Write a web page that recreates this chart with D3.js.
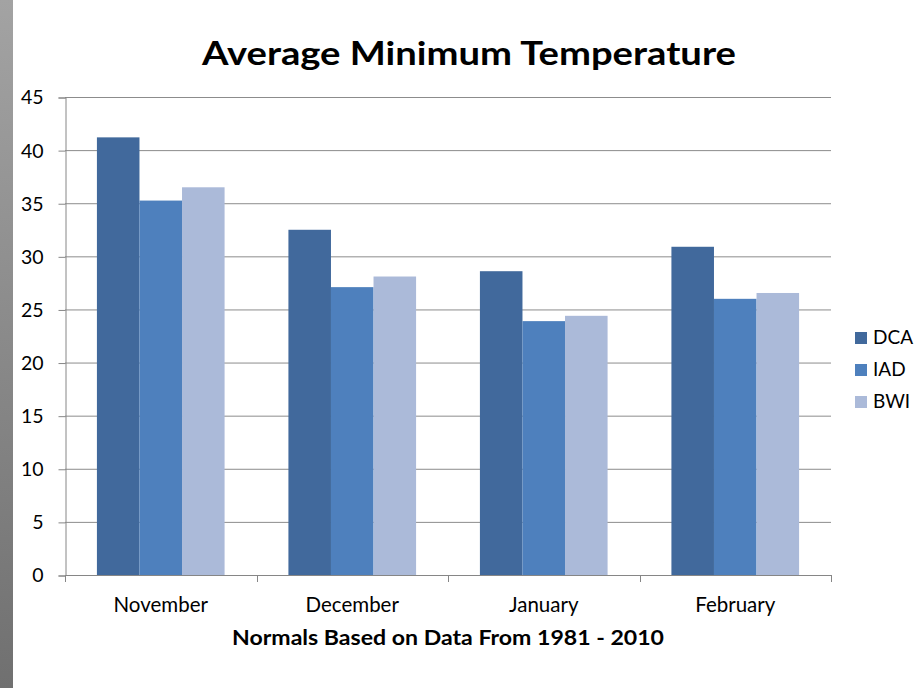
<!DOCTYPE html>
<html>
<head>
<meta charset="utf-8">
<script src="https://cdn.jsdelivr.net/npm/d3@7"></script>
<style>
    html, body { margin: 0; padding: 0; background: #fff; }
    svg { display: block; }
    .chart-text { font-family: Lato, "Open Sans", "DejaVu Sans", sans-serif; fill: #000; }
</style>
</head>
<body>
<div id="chart"></div>
<script>
const months = ["November", "December", "January", "February"];
const stations = ["DCA", "IAD", "BWI"];
const dcaValues = [41.2, 32.5, 28.6, 30.9];
const iadValues = [35.25, 27.1, 23.9, 26.0];
const bwiValues = [36.5, 28.1, 24.4, 26.55];
const yTicks = [0, 5, 10, 15, 20, 25, 30, 35, 40, 45];
const stationColors = ["#41699c", "#4e80bd", "#abbad9"];

const width = 916, height = 688;
const plot = {left: 65, right: 831, top: 97, bottom: 575};

const series = [dcaValues, iadValues, bwiValues];
const rows = months.map((m, i) => ({
    month: m,
    values: stations.map((s, j) => ({station: s, value: series[j][i], color: stationColors[j]}))
}));

const svg = d3.select('#chart').append('svg')
    .attr('width', width)
    .attr('height', height);

// grey strip on the left edge
const grad = svg.append('defs').append('linearGradient')
    .attr('id', 'strip')
    .attr('x1', 0).attr('y1', 0).attr('x2', 0).attr('y2', 1);
grad.append('stop').attr('offset', '0%').attr('stop-color', '#a3a3a3');
grad.append('stop').attr('offset', '100%').attr('stop-color', '#707070');
svg.append('rect')
    .attr('x', 0).attr('y', 0)
    .attr('width', 13).attr('height', height)
    .attr('fill', 'url(#strip)');

const x0 = d3.scaleBand()
    .domain(months)
    .range([plot.left, plot.right])
    .paddingInner(1 / 3)
    .paddingOuter(1 / 6);

const x1 = d3.scaleBand()
    .domain(stations)
    .range([0, x0.bandwidth()]);

const y = d3.scaleLinear()
    .domain([0, 45])
    .range([plot.bottom, plot.top]);

// gridlines
svg.append('g')
    .selectAll('line')
    .data(yTicks.filter(t => t > 0))
    .enter().append('line')
    .attr('x1', plot.left)
    .attr('x2', plot.right)
    .attr('y1', d => y(d) + 0.5)
    .attr('y2', d => y(d) + 0.5)
    .attr('stroke', '#8c8c8c')
    .attr('stroke-width', 1);

// bars
svg.append('g')
    .selectAll('g')
    .data(rows)
    .enter().append('g')
    .attr('transform', d => `translate(${x0(d.month)},0)`)
    .selectAll('rect')
    .data(d => d.values)
    .enter().append('rect')
    .attr('x', d => x1(d.station))
    .attr('y', d => y(d.value))
    .attr('width', x1.bandwidth())
    .attr('height', d => y(0) - y(d.value))
    .attr('fill', d => d.color);

// y axis
const yAxis = d3.axisLeft(y)
    .tickValues(yTicks)
    .tickSize(7)
    .tickPadding(15);
const yg = svg.append('g')
    .attr('transform', `translate(${plot.left + 0.5},0.5)`)
    .call(yAxis);
yg.select('.domain').attr('stroke', '#868686');
yg.selectAll('.tick line').attr('stroke', '#868686');
yg.selectAll('.tick text')
    .attr('class', 'chart-text')
    .attr('font-size', 19.5)
    .attr('dy', '0.33em');

// x axis
const step = x0.step();
const xBoundaries = d3.range(months.length + 1).map(i => plot.left + i * step);
const xg = svg.append('g');
xg.append('line')
    .attr('x1', plot.left).attr('x2', plot.right)
    .attr('y1', plot.bottom + 0.5).attr('y2', plot.bottom + 0.5)
    .attr('stroke', '#868686');
xg.selectAll('line.tick')
    .data(xBoundaries)
    .enter().append('line')
    .attr('class', 'tick')
    .attr('x1', d => Math.round(d) + 0.5).attr('x2', d => Math.round(d) + 0.5)
    .attr('y1', plot.bottom).attr('y2', plot.bottom + 7)
    .attr('stroke', '#868686');
xg.selectAll('text')
    .data(months)
    .enter().append('text')
    .attr('class', 'chart-text')
    .attr('x', d => x0(d) + x0.bandwidth() / 2)
    .attr('y', 611.5)
    .attr('text-anchor', 'middle')
    .attr('font-size', 20.5)
    .text(d => d);

// titles (reference lettering is wide, so stretch to its measured width)
svg.append('text')
    .attr('class', 'chart-text')
    .attr('x', 469)
    .attr('y', 65)
    .attr('text-anchor', 'middle')
    .attr('font-size', 32)
    .attr('font-weight', 'bold')
    .attr('textLength', 534)
    .attr('lengthAdjust', 'spacingAndGlyphs')
    .text('Average Minimum Temperature');

svg.append('text')
    .attr('class', 'chart-text')
    .attr('x', 448)
    .attr('y', 645)
    .attr('text-anchor', 'middle')
    .attr('font-size', 21)
    .attr('font-weight', 'bold')
    .attr('textLength', 432)
    .attr('lengthAdjust', 'spacingAndGlyphs')
    .text('Normals Based on Data From 1981 - 2010');

// legend
const legend = svg.append('g')
    .selectAll('g')
    .data(stations)
    .enter().append('g')
    .attr('transform', (d, i) => `translate(855,${332 + i * 32})`);
legend.append('rect')
    .attr('width', 12)
    .attr('height', 12)
    .attr('fill', (d, i) => stationColors[i]);
legend.append('text')
    .attr('class', 'chart-text')
    .attr('x', 18)
    .attr('y', 12)
    .attr('font-size', 19)
    .text(d => d);
</script>
</body>
</html>
